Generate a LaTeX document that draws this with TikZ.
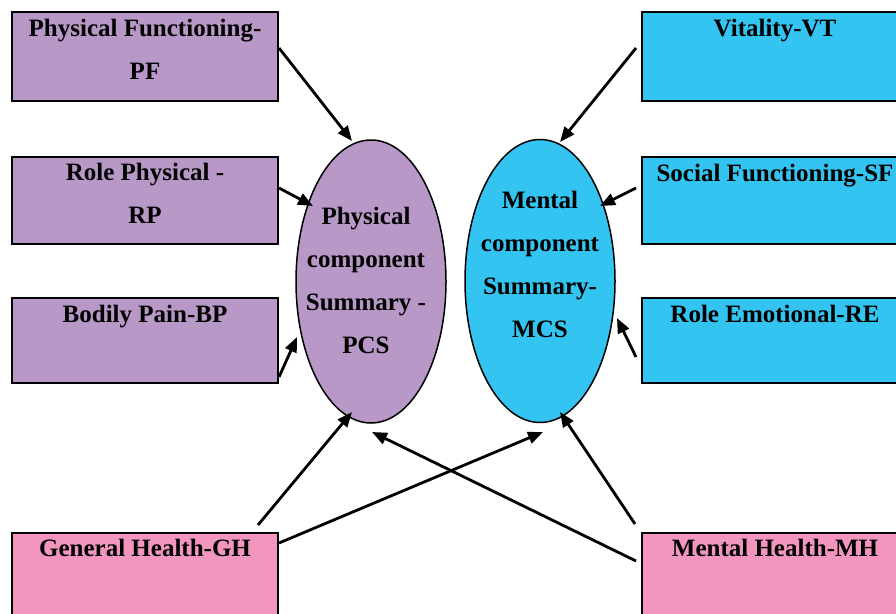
\documentclass[tikz,border=0pt]{standalone}
\usepackage{fontspec}
\setmainfont{Liberation Serif}
\usetikzlibrary{arrows.meta,calc,shapes.geometric}
\definecolor{purpleF}{RGB}{183,152,199}
\definecolor{cyanF}{RGB}{51,196,242}
\definecolor{pinkF}{RGB}{242,150,192}
\begin{document}
\begin{tikzpicture}[x=1pt,y=-1pt,
  boxnode/.style={draw=black,line width=2pt,minimum width=266pt,inner sep=0pt,anchor=north west},
  ellnode/.style={ellipse,draw=black,line width=1.5pt,minimum width=150pt,minimum height=283pt,inner sep=0pt},
  txt/.style={font=\fontsize{25}{43}\selectfont\bfseries,align=center,inner sep=0pt},
  arr/.style={line width=2.8pt,-{Triangle[length=15pt,width=12pt]}}]
\clip (0,0) rectangle (896,613);
\fill[white] (0,0) rectangle (896,613);
% left boxes
\node[boxnode,fill=purpleF,minimum height=89pt] (pf) at (11,11) {};
\node[boxnode,fill=purpleF,minimum height=87pt] (rp) at (11,156) {};
\node[boxnode,fill=purpleF,minimum height=85pt] (bp) at (11,297) {};
\node[boxnode,fill=pinkF,minimum height=92pt] (gh) at (11,532) {};
% right boxes
\node[boxnode,fill=cyanF,minimum height=89pt] (vt) at (641,11) {};
\node[boxnode,fill=cyanF,minimum height=87pt] (sf) at (641,156) {};
\node[boxnode,fill=cyanF,minimum height=85pt] (re) at (641,297) {};
\node[boxnode,fill=pinkF,minimum height=92pt] (mh) at (641,532) {};
% ellipses
\node[ellnode,fill=purpleF] (pcs) at (371,281.5) {};
\node[ellnode,fill=cyanF] (mcs) at (540,281) {};
% texts (anchor=base is the baseline of the last line)
\node[txt,anchor=base] (pft) at ($(pf.north)+(0,68)$) {Physical Functioning-\\PF};
\node[txt,anchor=base] (rpt) at ($(rp.north)+(0,67)$) {Role Physical -\\RP};
\node[txt,anchor=base] (bpt) at ($(bp.north)+(0,25)$) {Bodily Pain-BP};
\node[txt,anchor=base] (ght) at ($(gh.north)+(0,24)$) {General Health-GH};
\node[txt,anchor=base] (vtt) at ($(vt.north)+(0,25)$) {Vitality-VT};
\node[txt,anchor=base] (sft) at ($(sf.north)+(0,25)$) {Social Functioning-SF};
\node[txt,anchor=base] (ret) at ($(re.north)+(0,25)$) {Role Emotional-RE};
\node[txt,anchor=base] (mht) at ($(mh.north)+(0,24)$) {Mental Health-MH};
\node[txt] (pcst) at ($(pcs.center)+(-5,-1)$) {Physical\\component\\Summary -\\PCS};
\node[txt] (mcst) at ($(mcs.center)+(0,-16.5)$) {Mental\\component\\Summary-\\MCS};
% arrows
\draw[arr] ($(pf.north east)+(0,37)$) -- ($(pcs.center)+(-19,-140.5)$);
\draw[arr] ($(rp.north east)+(0,32)$) -- ($(pcs.center)+(-58,-75.5)$);
\draw[arr] ($(bp.north east)+(0,80)$) -- ($(pcs.center)+(-74,55.5)$);
\draw[arr] ($(gh.north west)+(247,-7)$) -- ($(pcs.center)+(-19,130.5)$);
\draw[arr] ($(gh.north east)+(0,11)$) -- ($(mcs.center)+(3,151)$);
\draw[arr] ($(mh.north west)+(-5,29)$) -- ($(pcs.center)+(1,150.5)$);
\draw[arr] ($(mh.north west)+(-6,-8)$) -- ($(mcs.center)+(20,131)$);
\draw[arr] ($(re.north west)+(-5,60)$) -- ($(mcs.center)+(77,37)$);
\draw[arr] ($(sf.north west)+(-5,32)$) -- ($(mcs.center)+(60,-75)$);
\draw[arr] ($(vt.north west)+(-5,37)$) -- ($(mcs.center)+(20,-139)$);
\end{tikzpicture}
\end{document}
